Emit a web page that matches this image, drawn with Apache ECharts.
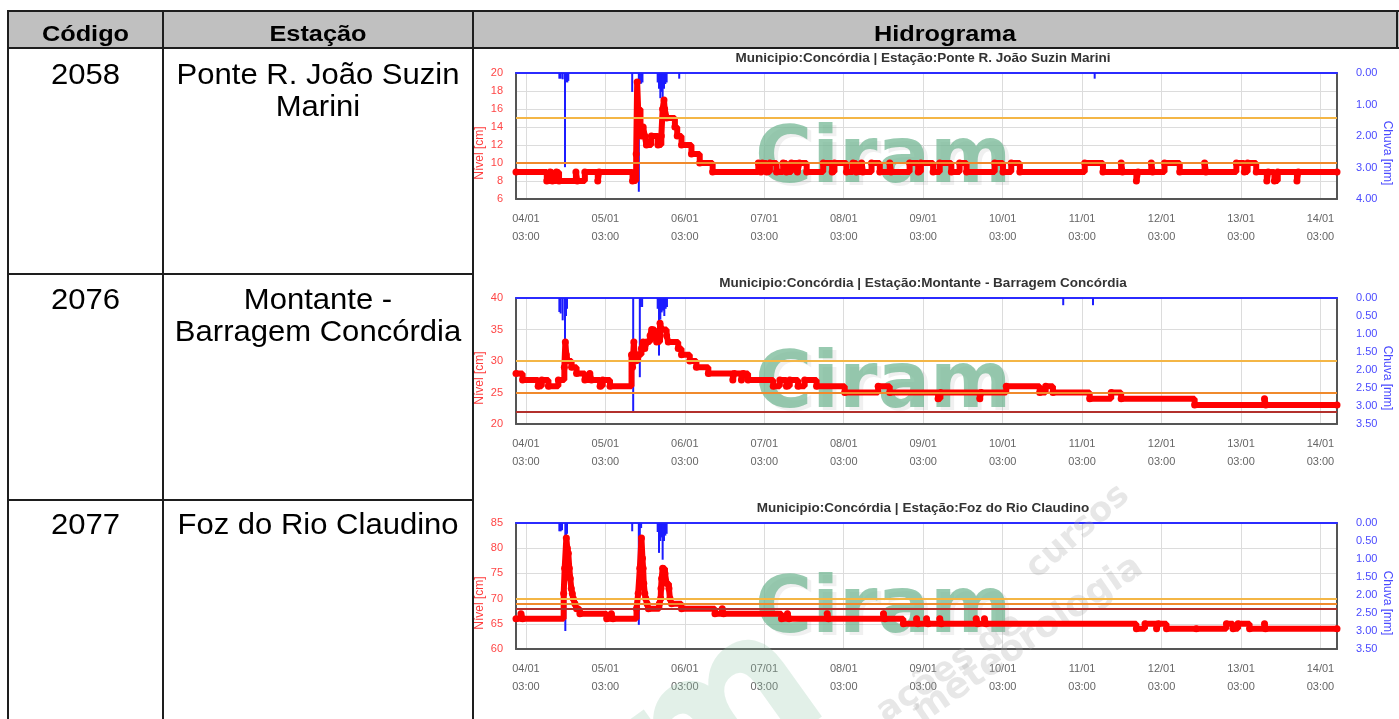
<!DOCTYPE html>
<html><head><meta charset="utf-8">
<script src="https://cdn.jsdelivr.net/npm/echarts@6/dist/echarts.min.js"></script>
<style>html,body{margin:0;padding:0;background:#fff;}#c{width:1399px;height:719px;}</style>
</head><body><div id="c"></div>
<script>
// ---------- DATA ----------
const headers = ['Código', 'Estação', 'Hidrograma'];
const codes = ['2058', '2076', '2077'];
const stations = [['Ponte R. João Suzin', 'Marini'], ['Montante -', 'Barragem Concórdia'], ['Foz do Rio Claudino']];
const chartTitles = [
  'Municipio:Concórdia | Estação:Ponte R. João Suzin Marini',
  'Municipio:Concórdia | Estação:Montante - Barragem Concórdia',
  'Municipio:Concórdia | Estação:Foz do Rio Claudino'
];
// x = hours since 04/01 00:00
const tickHours = [3, 27, 51, 75, 99, 123, 147, 171, 195, 219, 243];
const tickLabels = ['04/01\n03:00', '05/01\n03:00', '06/01\n03:00', '07/01\n03:00', '08/01\n03:00', '09/01\n03:00',
  '10/01\n03:00', '11/01\n03:00', '12/01\n03:00', '13/01\n03:00', '14/01\n03:00'];
const levelAxes = [[6, 20, 2], [20, 40, 5], [60, 85, 5]];
const rainAxes = [[0, 4, 1], [0, 3.5, 0.5], [0, 3.5, 0.5]];
const thresholds = [[15, 10], [30, 25, 22], [70, 69, 68]];

const level1 = [[0,9],[9.3,8],[10.3,9],[11.0,8],[12.2,9],[13.0,8],[18.1,9],[18.5,8],[20.8,9],[24.7,8],[25.1,9],[35.2,8],
  [36.3,11],[36.6,19],[36.9,16],[37.6,14],[37.9,13],[38.4,14],[38.9,13],[39.4,12],[40.9,13],[42.9,12],[43.9,13],[44.3,16],
  [44.7,17],[44.9,16],[45.5,15],[48.0,14],[48.7,13],[50.0,12],[53.0,11],[55.5,10],[59.4,9],
  [73.2,10],[74.0,9],[74.4,10],[75.7,9],[76.7,10],[78.7,9],[80.7,10],[81.7,9],[83.2,10],[85.0,9],[85.6,10],[87.8,9],
  [92.8,10],[95.5,9],[96.2,10],[99.8,9],[101.8,10],[102.8,9],[104.4,10],[104.8,9],[107.4,10],[109.9,9],[112.9,10],[113.3,9],
  [118.9,10],[121.5,9],[122.3,10],[126.0,9],[128.0,10],[131.5,9],[134.0,10],[136.1,9],[144.6,10],[147.1,9],[149.6,10],[152.2,9],
  [171.8,10],[177.3,9],[182.8,10],[183.2,9],[187.4,8],[187.9,9],[191.9,10],[192.3,9],[195.9,10],[200.5,9],[208.0,10],[208.4,9],
  [217.6,10],[220.0,9],[221.0,10],[223.6,9],[226.8,8],[227.2,9],[229.1,8],[230.1,9],[235.9,8],[236.3,9],[248,9]];
const rain1 = [[13.1,0.18],[13.5,0.18],[14.1,0.2],[14.8,2.99],[15.1,0.29],[15.5,0.3],[15.8,0.25],[35.1,0.6],[37.1,3.77],
  [37.4,0.34],[37.8,0.34],[38.2,0.3],[42.8,0.3],[43.2,0.5],[43.6,0.8],[44.0,0.6],[44.3,1.03],[44.7,0.5],[45.1,0.35],
  [45.5,0.3],[49.3,0.18],[174.8,0.18]];

const level2 = [[0,28],[2,27],[6.7,26],[7.8,27],[9.8,26],[12.8,27],[14.6,29],[14.9,33],[15.2,31],[15.6,30],[16.8,29],[18.3,28],
  [20.8,27],[22.3,28],[22.8,27],[25.4,26],[26.2,27],[28.4,26],[34.9,31],[35.2,29],[35.6,33],[35.9,30],[36.9,31],[37.9,32],
  [38.4,33],[38.9,32],[39.5,33],[40.5,34],[41.0,35],[42.0,34],[42.5,33],[43.5,36],[44.0,35],[45.5,34],[46.0,33],[49.0,32],
  [50.0,31],[52.5,30],[54.5,29],[58.1,28],[65.5,27],[65.9,28],[68.1,27],[68.6,28],[70.1,27],[77.7,26],[79.7,27],[81.7,26],
  [82.7,27],[85.2,26],[87.2,27],[90.8,26],[99.3,25],[109.4,26],[112.9,25],[127.5,24],[128.2,25],[140.1,24],[140.5,25],
  [148.1,26],[158.2,25],[160.0,26],[162.2,25],[173.3,24],[179.8,25],[182.8,24],[205.0,23],[226.1,24],[226.5,23],[248,23]];
const rain2 = [[13.1,0.39],[13.5,0.43],[14.1,0.62],[14.8,1.6],[15.1,0.5],[15.4,0.3],[35.4,3.18],[37.4,2.2],[37.7,0.25],
  [38.1,0.25],[42.8,0.3],[43.2,1.6],[43.6,0.6],[44.0,0.4],[44.4,0.35],[44.8,0.5],[45.2,0.3],[45.6,0.25],[165.3,0.2],[174.3,0.2]];

const level3 = [[0,66],[1.5,67],[2.0,66],[14.4,71],[14.7,76],[15.2,82],[15.5,80],[15.8,79],[16.1,76],[16.4,74],[16.7,72],
  [17.0,71],[17.3,70],[17.8,69],[18.3,68],[19.3,67],[27.4,66],[28.8,67],[29.3,66],[36.4,68],[36.9,71],[37.4,76],[37.9,82],
  [38.2,78],[38.4,76],[38.6,73],[38.9,71],[39.2,70],[39.6,69],[40.0,68],[43.3,69],[43.7,70],[43.8,72],[44.0,74],[44.3,76],
  [45.0,75],[45.5,73],[46.2,72],[46.5,70],[47.0,69],[50.0,68],[60.1,67],[62.3,68],[62.7,67],[80.2,66],[82.0,67],[82.5,66],
  [94.0,67],[94.4,66],[111.0,67],[111.4,66],[117.0,65],[121.0,66],[121.4,65],[124.0,66],[124.5,65],[128.0,66],[128.5,65],
  [139.0,66],[139.5,65],[141.5,66],[142.0,65],[187.4,64],[190.0,65],[193.5,64],[194.0,65],[196.5,64],[205.5,64],[214.6,65],
  [216.6,64],[218.1,65],[221.6,64],[226.1,65],[226.4,64],[248,64]];
const rain3 = [[13.1,0.23],[13.5,0.23],[13.9,0.2],[14.9,3.0],[15.1,0.8],[15.4,0.3],[35.1,0.23],[37.1,2.83],[37.4,0.6],
  [37.8,0.14],[42.8,0.25],[43.2,0.83],[43.6,0.5],[44.0,0.4],[44.3,1.02],[44.7,0.5],[45.1,0.35],[45.5,0.3]];

// ---------- LAYOUT / STYLE ----------
const levels = [level1, level2, level3];
const rains = [rain1, rain2, rain3];
const gridTops = [73, 298, 523];
const gridH = 126;
const thrColors = ['#f4b646', '#f08a2c', '#b3302c'];
const F = 'Arial, "Liberation Sans", sans-serif';

const chart = echarts.init(document.getElementById('c'), null, {renderer: 'canvas'});

const grids = [], xAxes = [], yAxes = [], series = [], graphics = [];

gridTops.forEach((top, i) => {
  grids.push({left: 516, width: 821, top: top, height: gridH, show: false, containLabel: false, outerBoundsMode: 'none'});
  xAxes.push({
    gridIndex: i, type: 'value', min: 0, max: 248, position: 'bottom',
    axisLine: {show: true, onZero: false, lineStyle: {color: '#555', width: 2}},
    axisTick: {show: false, customValues: tickHours},
    axisLabel: {customValues: tickHours, color: '#666', fontSize: 11, fontFamily: F, lineHeight: 18, margin: 11,
      formatter: v => { const k = tickHours.indexOf(Math.round(v)); return k >= 0 ? tickLabels[k] : ''; }},
    splitLine: {show: true, lineStyle: {color: '#dcdcdc', width: 1}}
  });
  xAxes.push({
    gridIndex: i, type: 'value', min: 0, max: 248, position: 'top',
    axisLine: {show: true, onZero: false, lineStyle: {color: '#2b2bff', width: 2}},
    axisTick: {show: false}, axisLabel: {show: false}, splitLine: {show: false}
  });
  const la = levelAxes[i], ra = rainAxes[i];
  yAxes.push({
    gridIndex: i, type: 'value', min: la[0], max: la[1], interval: la[2], position: 'left',
    name: 'Nível [cm]', nameLocation: 'middle', nameGap: 30, nameMoveOverlap: false,
    nameTextStyle: {color: '#ff3b3b', fontSize: 12, fontFamily: F, padding: [0, 34, 0, 0]},
    axisLine: {show: true, onZero: false, lineStyle: {color: '#555', width: 2}},
    axisTick: {show: false},
    axisLabel: {color: '#ff4545', fontSize: 11, fontFamily: F, margin: 13},
    splitLine: {show: true, lineStyle: {color: '#dcdcdc', width: 1}}
  });
  yAxes.push({
    gridIndex: i, type: 'value', min: ra[0], max: ra[1], interval: ra[2], position: 'right', inverse: true,
    name: 'Chuva [mm]', nameLocation: 'middle', nameGap: 44, nameRotate: -90, nameMoveOverlap: false,
    nameTextStyle: {color: '#4a4aff', fontSize: 12, fontFamily: F, padding: [0, 0, 0, 34]},
    axisLine: {show: true, onZero: false, lineStyle: {color: '#555', width: 2}},
    axisTick: {show: false},
    axisLabel: {color: '#4a4aff', fontSize: 11, fontFamily: F, margin: 19, formatter: v => v.toFixed(2)},
    splitLine: {show: false}
  });
  series.push({
    type: 'line', xAxisIndex: 2 * i, yAxisIndex: 2 * i, data: [], silent: true, z: 1,
    markLine: {symbol: 'none', silent: true, animation: false, label: {show: false},
      data: thresholds[i].map((v, k) => ({yAxis: v, lineStyle: {color: thrColors[k], width: 2, type: 'solid'}}))}
  });
  series.push({
    type: 'bar', xAxisIndex: 2 * i, yAxisIndex: 2 * i + 1, data: rains[i], barWidth: 2, silent: true, z: 2,
    itemStyle: {color: '#1c1cff'}
  });
  series.push({
    type: 'line', xAxisIndex: 2 * i, yAxisIndex: 2 * i, data: levels[i], step: 'end', z: 3,
    symbol: 'circle', symbolSize: 7, showAllSymbol: true, silent: true,
    lineStyle: {color: '#ff0000', width: 6}, itemStyle: {color: '#ff0000'}
  });
  // chart title
  graphics.push({type: 'text', x: 923, y: top - 15, z: 10,
    style: {text: chartTitles[i], font: 'bold 13.5px ' + F, fill: '#333', textAlign: 'center', textVerticalAlign: 'middle'}});
  // Ciram watermark
  graphics.push({type: 'text', x: 759, y: top + 92, z: 1,
    style: {text: 'Ciram', font: 'bold 78px "DejaVu Sans"', fill: 'rgba(0,0,0,0.06)', textAlign: 'left', textVerticalAlign: 'middle'}});
  graphics.push({type: 'text', x: 755, y: top + 89, z: 1,
    style: {text: 'Ciram', font: 'bold 78px "DejaVu Sans"', fill: 'rgba(118,184,150,0.75)', textAlign: 'left', textVerticalAlign: 'middle'}});
});

// diagonal watermark (bottom)
graphics.push({type: 'text', x: 665, y: 765, z: 1, rotation: 0.62,
  style: {text: 'am', font: 'bold 200px "DejaVu Sans"', fill: 'rgba(150,200,172,0.28)', textAlign: 'center', textVerticalAlign: 'middle'}});
graphics.push({type: 'text', x: 1078, y: 532, z: 1, rotation: 0.72,
  style: {text: 'cursos', font: 'bold 34px "DejaVu Sans"', fill: 'rgba(170,170,170,0.28)', textAlign: 'center', textVerticalAlign: 'middle'}});
graphics.push({type: 'text', x: 1028, y: 640, z: 1, rotation: 0.6,
  style: {text: 'meteorologia', font: 'bold 36px "DejaVu Sans"', fill: 'rgba(170,170,170,0.28)', textAlign: 'center', textVerticalAlign: 'middle'}});
graphics.push({type: 'text', x: 950, y: 668, z: 1, rotation: 0.6,
  style: {text: 'ações de', font: 'bold 34px "DejaVu Sans"', fill: 'rgba(170,170,170,0.28)', textAlign: 'center', textVerticalAlign: 'middle'}});

// table
graphics.push({type: 'rect', z: 5, shape: {x: 8, y: 11, width: 1391, height: 37}, style: {fill: '#c0c0c0'}});
const L = (x1, y1, x2, y2) => graphics.push({type: 'line', z: 6, shape: {x1, y1, x2, y2}, style: {stroke: '#1e1e1e', lineWidth: 2}});
L(8, 11, 1399, 11); L(8, 48, 1399, 48); L(8, 274, 473, 274); L(8, 500, 473, 500);
L(8, 10, 8, 719); L(163, 10, 163, 719); L(473, 10, 473, 719); L(1397, 10, 1397, 48);
const headerX = [85.5, 318, 945];
headers.forEach((h, k) => graphics.push({type: 'text', x: headerX[k], y: 34.5, z: 7, scaleX: 1.15,
  style: {text: h, font: 'bold 22px ' + F, fill: '#000', textAlign: 'center', textVerticalAlign: 'middle'}}));
const rowY = [76, 301, 526];
codes.forEach((c, k) => graphics.push({type: 'text', x: 85.5, y: rowY[k], z: 7, scaleX: 1.07,
  style: {text: c, font: '29px ' + F, fill: '#000', textAlign: 'center', textVerticalAlign: 'middle'}}));
stations.forEach((lines, k) => lines.forEach((t, j) => graphics.push({type: 'text', x: 318, y: rowY[k] + j * 32, z: 7, scaleX: 1.07,
  style: {text: t, font: '29px ' + F, fill: '#000', textAlign: 'center', textVerticalAlign: 'middle'}})));

chart.setOption({
  animation: false,
  backgroundColor: '#fff',
  grid: grids, xAxis: xAxes, yAxis: yAxes, series: series,
  graphic: {elements: graphics}
});
</script></body></html>
